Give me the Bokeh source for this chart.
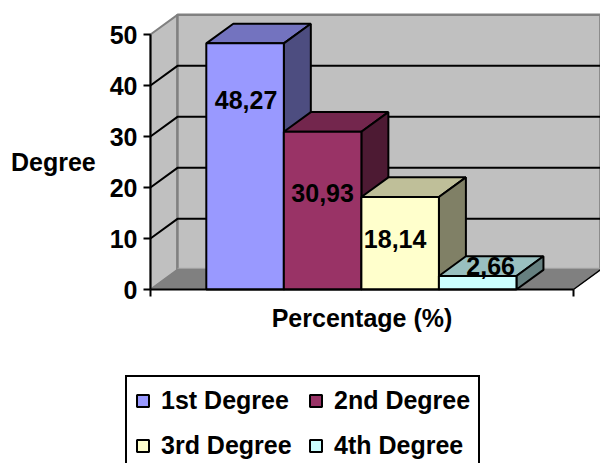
from bokeh.embed import file_html
from bokeh.resources import INLINE
from bokeh.plotting import figure
from bokeh.models import ColumnDataSource, FixedTicker, Legend, LegendItem, Range1d
from bokeh.core.properties import value

# ---- data ----
categories = ["1st Degree", "2nd Degree", "3rd Degree", "4th Degree"]
percentages = [48.27, 30.93, 18.14, 2.66]
y_ticks = [0, 10, 20, 30, 40, 50]
x_title = "Percentage (%)"
y_title = "Degree"

# ---- styles ----
front_colors = ["#9999FF", "#993366", "#FFFFCC", "#CCFFFF"]
top_colors = ["#7373BF", "#73264D", "#BFBF99", "#99BFBF"]
side_colors = ["#4D4D80", "#4D1A33", "#808066", "#668080"]
WALL = "#C0C0C0"
FLOOR = "#808080"
FONT = "Liberation Sans"
FS = "25px"

# ---- layout: scales fill the whole page; axis span in bar widths, 3-D depth in data units ----
W, H = 600, 463
PX_X, PX_Y = 77.54, 5.1
ORIGIN_X, ORIGIN_Y = 205.8, 289        # page pixel of (0, 0)
X0, X1 = -0.72, 4.735
DX, DY = 0.348, 3.85
label_dy = [57, 61, 42, -10]   # px below the top of each bar
label_dx = [1, 0, -5, 13]      # px right of the centre of each bar

p = figure(width=W, height=H, output_backend="svg", toolbar_location=None,
           x_range=Range1d(-ORIGIN_X / PX_X, (W - ORIGIN_X) / PX_X),
           y_range=Range1d((ORIGIN_Y - H) / PX_Y, ORIGIN_Y / PX_Y),
           min_border=0, background_fill_color="white", border_fill_color="white",
           outline_line_color=None)
p.grid.visible = False

# walls and floor
top = y_ticks[-1]
p.patch([X0, X0 + DX, X0 + DX, X0], [0, DY, top + DY, top], fill_color=WALL,
        line_color=FLOOR, line_width=2)
p.patch([X0 + DX, X1 + DX, X1 + DX, X0 + DX], [DY, DY, top + DY, top + DY], fill_color=WALL,
        line_color=FLOOR, line_width=2.5)
p.patch([X0, X0 + DX, X1 + DX, X1], [0, DY, DY, 0], fill_color=FLOOR,
        line_color=FLOOR, line_width=1)
p.line([X1, X1 + DX], [0, DY], line_color="black", line_width=1.5)
p.line([X0 + DX, X1 + DX], [DY + 0.3, DY + 0.3], line_color="#A0A0A0", line_width=1)

# gridlines on the back and left walls
inner = [t for t in y_ticks if 0 < t < top]
p.multi_line([[X0, X0 + DX, X1 + DX] for t in inner],
             [[t, t + DY, t + DY] for t in inner],
             line_color="black", line_width=2)

# bars
items = []
for i, (name, v) in enumerate(zip(categories, percentages)):
    x0, x1 = i, i + 1
    p.patch([x0, x0 + DX, x1 + DX, x1], [v, v + DY, v + DY, v], fill_color=top_colors[i],
            line_color="black", line_width=2)
    p.patch([x1, x1 + DX, x1 + DX, x1], [0, DY, v + DY, v], fill_color=side_colors[i],
            line_color="black", line_width=2)
    r = p.quad(left=[x0], right=[x1], bottom=[0], top=[v], fill_color=front_colors[i],
               line_color="black", line_width=2)
    items.append(LegendItem(label=name, renderers=[r]))

# data labels
src = ColumnDataSource(dict(
    x=[i + 0.5 for i in range(len(percentages))],
    y=percentages,
    xoff=label_dx,
    yoff=label_dy,
    txt=[f"{v:.2f}".replace(".", ",") for v in percentages],
))
p.text("x", "y", text="txt", x_offset="xoff", y_offset="yoff", source=src,
       text_align="center", text_baseline="middle",
       text_font=value(FONT), text_font_style="bold", text_font_size=FS, text_color="black")

# axes
p.yaxis.fixed_location = X0
p.yaxis.bounds = (y_ticks[0], y_ticks[-1])
p.yaxis.ticker = FixedTicker(ticks=y_ticks)
p.yaxis.axis_label = y_title
p.yaxis.axis_label_orientation = "horizontal"
p.yaxis.axis_label_standoff = 11
p.yaxis.major_label_standoff = 6
p.yaxis.major_tick_out = 7
p.yaxis.major_tick_in = 0
p.yaxis.minor_tick_line_color = None
p.xaxis.fixed_location = 0
p.xaxis.bounds = (X0, X1)
p.xaxis.ticker = FixedTicker(ticks=[X0, X1])
p.xaxis.major_label_text_font_size = "1px"
p.xaxis.major_label_text_color = None
p.xaxis.major_tick_out = 7
p.xaxis.major_tick_in = 0
p.xaxis.minor_tick_line_color = None
p.xaxis.axis_label = x_title
p.xaxis.axis_label_standoff = 7
for ax in (p.xaxis[0], p.yaxis[0]):
    ax.level = "overlay"
    ax.axis_line_width = 2
    ax.major_tick_line_width = 2
    ax.axis_line_color = "black"
    ax.major_tick_line_color = "black"
    ax.major_label_text_font = FONT
    ax.axis_label_text_font = FONT
    ax.axis_label_text_font_style = "bold"
    ax.axis_label_text_font_size = FS
    ax.axis_label_text_color = "black"
p.yaxis.major_label_text_color = "black"
p.yaxis.major_label_text_font_style = "bold"
p.yaxis.major_label_text_font_size = FS

legend = Legend(items=items, location=(125, -8), orientation="horizontal", ncols=2,
                glyph_width=15, glyph_height=15, label_standoff=11, padding=8, margin=0,
                spacing=14, label_height=31, label_width=133, label_text_font=FONT,
                label_text_font_style="bold", label_text_font_size=FS, label_text_color="black",
                border_line_color="black", border_line_alpha=1, border_line_width=2,
                background_fill_color="white", background_fill_alpha=1)
p.add_layout(legend, "center")

open("out.html", "w").write(file_html(p, INLINE))
